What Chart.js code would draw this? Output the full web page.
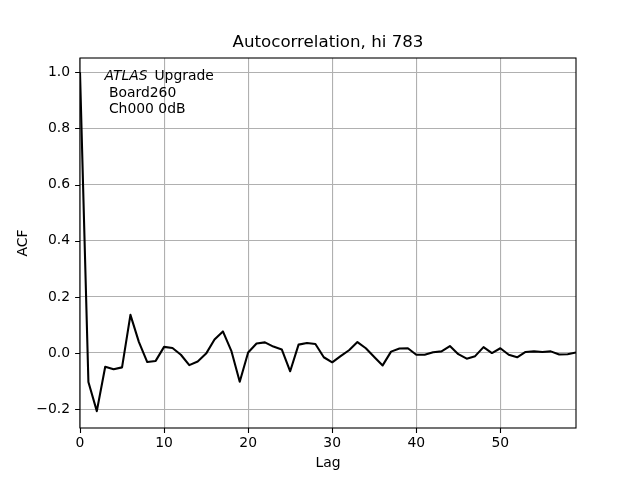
<!DOCTYPE html>
<html>
<head>
<meta charset="utf-8">
<script src="https://cdn.jsdelivr.net/npm/chart.js@4/dist/chart.umd.min.js"></script>
<style>
  html, body { margin: 0; padding: 0; background: #ffffff; }
  #wrap { width: 640px; height: 480px; position: relative; }
</style>
</head>
<body>
<div id="wrap"><canvas id="c" width="640" height="480"></canvas></div>
<script>
const chartTitle = "Autocorrelation, hi 783";
const xAxisTitle = "Lag";
const yAxisTitle = "ACF";
const lags = [0,1,2,3,4,5,6,7,8,9,10,11,12,13,14,15,16,17,18,19,20,21,22,23,24,25,26,27,28,29,30,31,32,33,34,35,36,37,38,39,40,41,42,43,44,45,46,47,48,49,50,51,52,53,54,55,56,57,58,59];
const acfValues = [1.0,-0.103,-0.207,-0.049,-0.058,-0.051,0.136,0.040,-0.032,-0.028,
  0.022,0.018,-0.006,-0.043,-0.030,-0.002,0.048,0.077,0.008,-0.102,
  0.002,0.034,0.038,0.023,0.013,-0.065,0.030,0.036,0.032,-0.015,
  -0.033,-0.011,0.010,0.039,0.017,-0.014,-0.044,0.005,0.016,0.017,
  -0.006,-0.006,0.003,0.006,0.025,-0.004,-0.020,-0.011,0.021,0.000,
  0.017,-0.006,-0.015,0.004,0.006,0.004,0.006,-0.005,-0.004,0.002];
const xTickValues = [0,10,20,30,40,50];
const xTickLabels = ["0","10","20","30","40","50"];
const yTickValues = [-0.2,0.0,0.2,0.4,0.6,0.8,1.0];
const yTickLabels = ["\u22120.2","0.0","0.2","0.4","0.6","0.8","1.0"];
const annotationLines = [["ATLAS", " Upgrade"], ["", " Board260"], ["", " Ch000 0dB"]];

const FONT = "'DejaVu Sans', sans-serif";

const framePlugin = {
  id: 'frame',
  afterDatasetsDraw(chart) {
    const {ctx, chartArea: a, scales} = chart;
    ctx.save();
    ctx.strokeStyle = '#000';
    ctx.lineWidth = 1.1;
    ctx.strokeRect(a.left, a.top, a.right - a.left, a.bottom - a.top);
    ctx.beginPath();
    xTickValues.forEach(v => {
      const px = Math.round(scales.x.getPixelForValue(v)) + 0.5;
      ctx.moveTo(px, a.bottom); ctx.lineTo(px, a.bottom + 4.9);
    });
    yTickValues.forEach(v => {
      const py = Math.round(scales.y.getPixelForValue(v)) + 0.5;
      ctx.moveTo(a.left - 4.9, py); ctx.lineTo(a.left, py);
    });
    ctx.stroke();
    // annotation text
    ctx.fillStyle = '#000';
    ctx.textBaseline = 'alphabetic';
    ctx.textAlign = 'left';
    const x0 = 104.5;
    const baselines = [80, 96.7, 113.4];
    annotationLines.forEach((parts, i) => {
      let x = x0;
      if (parts[0]) {
        ctx.font = "italic 13.9px " + FONT;
        ctx.fillText(parts[0], x, baselines[i]);
        x += ctx.measureText(parts[0]).width + 2.5;
      }
      ctx.font = "13.9px " + FONT;
      ctx.fillText(parts[1], x, baselines[i]);
    });
    ctx.restore();
  }
};

new Chart(document.getElementById('c'), {
  type: 'line',
  data: {
    datasets: [{
      data: lags.map((l, i) => ({x: l, y: acfValues[i]})),
      borderColor: '#000000',
      borderWidth: 2.08,
      pointRadius: 0,
      tension: 0,
      fill: false,
      borderJoinStyle: 'round'
    }]
  },
  options: {
    responsive: false,
    animation: false,
    layout: { padding: { left: 0, right: 64, top: 0, bottom: 0 } },
    plugins: {
      legend: { display: false },
      tooltip: { enabled: false },
      title: {
        display: true,
        fullSize: false,
        text: chartTitle,
        color: '#000',
        font: { family: FONT, size: 16.67, weight: 'normal', lineHeight: 1.2 },
        padding: { top: 33, bottom: 5 }
      }
    },
    scales: {
      x: {
        type: 'linear',
        min: 0, max: 59,
        afterBuildTicks: s => { s.ticks = xTickValues.map(v => ({value: v})); },
        afterFit: s => { s.height = 52; },
        ticks: {
          color: '#000',
          font: { family: FONT, size: 13.9 },
          padding: 7,
          maxRotation: 0,
          autoSkip: false,
          callback: (v, i) => xTickLabels[i]
        },
        grid: { color: '#b0b0b0', lineWidth: 1.1, drawTicks: false },
        border: { display: false },
        title: {
          display: true, text: xAxisTitle, color: '#000',
          font: { family: FONT, size: 13.9, lineHeight: 1.2 },
          padding: { top: 0, bottom: 8 }
        }
      },
      y: {
        type: 'linear',
        min: -0.267, max: 1.051,
        afterBuildTicks: s => { s.ticks = yTickValues.map(v => ({value: v})); },
        afterFit: s => { s.width = 80; },
        ticks: {
          color: '#000',
          font: { family: FONT, size: 13.9 },
          padding: 10,
          autoSkip: false,
          callback: (v, i) => yTickLabels[i]
        },
        grid: { color: '#b0b0b0', lineWidth: 1.1, drawTicks: false },
        border: { display: false },
        title: {
          display: true, text: yAxisTitle, color: '#000',
          font: { family: FONT, size: 13.9, lineHeight: 1.2 },
          padding: { top: 15, bottom: 0 }
        }
      }
    }
  },
  plugins: [framePlugin]
});
</script>
</body>
</html>
